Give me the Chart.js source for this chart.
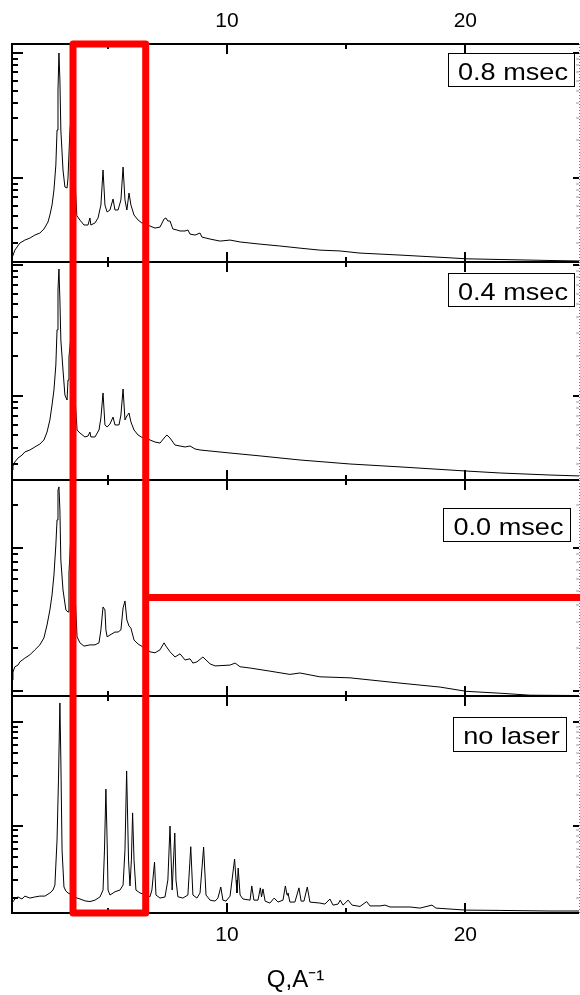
<!DOCTYPE html>
<html>
<head>
<meta charset="utf-8">
<script src="https://cdn.jsdelivr.net/npm/chart.js@4.4.1/dist/chart.umd.min.js"></script>
<style>
html,body{margin:0;padding:0;background:#fff;}
canvas{display:block;}
</style>
</head>
<body>
<canvas id="c" width="580" height="995"></canvas>
<script>
// ---------------- data ----------------
const panelLabels = ['0.8 msec', '0.4 msec', '0.0 msec', 'no laser'];
const xTickLabels = [10, 20];
const xMinorTicks = [5, 15];
const xTitle = 'Q,A\u207B\u00B9';

// 0.8 msec
const q1 = [0.98,1.10,1.31,1.52,1.73,1.94,2.15,2.32,2.49,2.57,2.66,2.74,2.82,2.87,2.91,2.95,2.99,3.03,3.12,3.20,3.29,3.33,3.41,3.50,3.60,3.70,3.83,4.00,4.17,4.25,4.29,4.46,4.59,4.71,4.80,4.88,4.97,5.09,5.22,5.30,5.43,5.55,5.64,5.72,5.80,5.89,5.97,6.10,6.27,6.43,6.60,6.77,6.98,7.19,7.36,7.44,7.52,7.61,7.73,7.90,8.03,8.24,8.36,8.45,8.66,8.87,8.95,9.29,9.71,10.13,10.55,11.39,12.22,13.06,13.90,14.74,15.58,17.26,19.36,20.03,21.46,23.55,24.77];
const i1 = [229,265,302,319,331,350,363,391,445,506,608,802,1270,2420,5060,10000,6080,2420,1160,847,832,1000,2400,3500,1200,500,461,421,421,479,421,437,479,608,1160,608,535,555,679,555,555,667,1224,667,555,759,608,506,461,437,428,413,398,405,470,479,453,453,391,384,377,377,384,356,350,363,337,325,313,319,308,296,286,275,265,261,251,242,230,226,223,219,217];

// 0.4 msec
const q2 = [0.98,1.02,1.10,1.23,1.40,1.52,1.73,1.94,2.15,2.32,2.45,2.57,2.66,2.74,2.82,2.87,2.91,2.95,2.99,3.03,3.12,3.20,3.29,3.33,3.37,3.45,3.52,3.62,3.71,3.83,4.04,4.17,4.25,4.29,4.46,4.63,4.71,4.80,4.88,4.97,5.09,5.22,5.30,5.47,5.55,5.64,5.72,5.80,5.89,5.97,6.10,6.27,6.48,6.60,6.77,6.98,7.19,7.40,7.48,7.61,7.82,8.24,8.45,8.66,8.87,10.13,11.39,13.06,15.16,17.26,20.03,21.46,23.55,24.77];
const i2 = [271,290,312,334,352,372,385,406,428,459,528,653,849,1105,1715,3180,6410,9270,5380,2660,1570,1010,927,1318,1970,2800,3000,1000,547,519,484,492,528,484,484,547,676,1049,598,577,608,687,598,598,712,1125,653,700,738,630,547,501,475,475,459,443,435,484,501,475,420,406,413,392,385,365,347,323,301,286,266,257,248,244];

// 0.0 msec
const q3 = [0.98,1.02,1.10,1.23,1.31,1.52,1.73,1.94,2.15,2.32,2.45,2.57,2.66,2.74,2.82,2.87,2.91,2.95,2.99,3.03,3.12,3.24,3.33,3.37,3.45,3.52,3.62,3.71,3.83,4.00,4.25,4.46,4.63,4.71,4.80,4.88,4.92,4.97,5.09,5.30,5.43,5.55,5.64,5.72,5.80,5.89,5.97,6.10,6.27,6.48,6.60,6.77,6.98,7.19,7.31,7.36,7.44,7.61,7.82,8.03,8.24,8.45,8.57,8.74,8.99,9.29,9.50,10.13,10.34,10.55,10.97,11.80,12.64,13.06,13.90,15.16,17.26,18.94,20.03,21.46,22.72,24.77];
const i3 = [119,135,147,151,159,169,178,193,209,234,288,367,467,644,1045,1563,2530,2660,1835,820,506,367,355,665,1200,1400,500,238,216,205,209,209,216,266,385,367,266,238,245,257,257,266,379,424,312,283,274,226,212,202,199,187,184,193,209,216,205,187,172,181,164,167,156,159,172,154,149,151,156,147,144,137,130,133,125,123,113,106,99,96,93,92.5];

// no laser
const q4 = [0.98,1.10,1.23,1.40,1.52,1.73,1.94,2.15,2.36,2.57,2.70,2.78,2.87,2.93,2.99,3.03,3.08,3.16,3.24,3.33,3.50,3.71,3.83,4.04,4.25,4.46,4.67,4.80,4.86,4.92,4.97,5.01,5.09,5.30,5.51,5.64,5.72,5.79,5.87,5.93,5.99,6.04,6.10,6.18,6.35,6.60,6.77,6.85,6.96,7.02,7.19,7.40,7.52,7.61,7.70,7.81,7.86,7.94,8.15,8.36,8.48,8.57,8.74,8.87,9.02,9.12,9.29,9.50,9.62,9.74,9.83,9.96,10.13,10.32,10.38,10.42,10.47,10.55,10.67,10.97,11.04,11.13,11.30,11.40,11.45,11.51,11.60,11.80,11.98,12.14,12.35,12.45,12.52,12.56,12.64,12.85,13.02,13.11,13.23,13.37,13.48,13.90,14.11,14.32,14.45,14.66,14.75,14.87,15.08,15.25,15.58,15.86,16.00,16.42,16.63,16.84,17.26,17.68,18.10,18.60,18.77,20.03,21.46,23.55,24.77];
const i4 = [17.9,19.6,20.5,19.6,20.9,20.0,20.5,20.9,20.9,22.4,23.9,26.7,72.7,277,1535,431,58.2,25.6,23.4,22.4,21.4,20.0,19.6,18.8,18.5,19.1,20.5,23.9,58.2,226,72.7,23.9,21.4,23.0,23.9,26.7,58.2,338,46.7,26.2,46.7,133,46.7,23.9,22.4,21.4,20.6,23.9,44.6,21.4,20.0,20.5,29.9,99.3,23.9,85.0,29.9,20.6,20.0,21.4,62.7,21.4,20.0,22.4,62.2,21.4,19.1,18.7,20.0,25.6,19.1,18.7,20.9,47.7,29.9,22.4,39.0,21.4,19.6,19.1,26.2,19.1,19.1,25.1,20.5,24.5,18.7,17.9,20.0,18.3,19.1,26.2,21.4,22.4,18.3,18.3,25.1,18.7,18.7,25.6,18.3,17.9,17.5,19.6,17.1,17.5,19.1,17.1,19.1,17.1,16.6,18.5,16.8,16.8,17.1,16.4,16.4,16.4,16.0,17.1,16.0,15.3,15.2,15.0,15.0];

// highlighted Q window (red frame) and red level line in the 0.0 msec panel
const highlightQ = [3.54, 6.59];
const highlightLevel = 449;

// ---------------- styling / layout ----------------
const FONT = '"Liberation Sans", Arial, Helvetica, sans-serif';
Chart.defaults.font.family = FONT;
Chart.defaults.color = '#000';

const panels = [
  {id:'y1', q:q1, v:i1, min:213,   max:11803, weight:218, label:panelLabels[0], box:[448,53,126,33]},
  {id:'y2', q:q2, v:i2, min:227.2, max:10486, weight:218, label:panelLabels[1], box:[448,273,126,33]},
  {id:'y3', q:q3, v:i3, min:91.8,  max:2973,  weight:216, label:panelLabels[2], box:[443,508,127,33]},
  {id:'y4', q:q4, v:i4, min:14.35, max:1792,  weight:217, label:panelLabels[3], box:[453,717,113,34]}
];

const X_MIN = 0.98, X_MAX = 24.77;

function xAxis(pos, h, withTitle) {
  return {
    type:'linear', position:pos, min:X_MIN, max:X_MAX,
    afterBuildTicks: s => { s.ticks = xTickLabels.map(v => ({value:v})); },
    ticks:{font:{size:21}, padding:10, maxRotation:0, autoSkip:false, color:'#000'},
    grid:{display:false, drawTicks:false},
    border:{display:false},
    title: withTitle ? {display:true, text:xTitle, font:{size:24}, padding:{top:0,bottom:0}, color:'#000'} : {display:false},
    afterFit: s => { s.height = h; }
  };
}

const scales = { x: xAxis('bottom', 82, true), x2: xAxis('top', 44, false) };
// stacked log axes: defined bottom panel first so the last one ends on top
[...panels].reverse().forEach(p => {
  scales[p.id] = {
    type:'logarithmic', position:'left', stack:'panels', stackWeight:p.weight,
    min:p.min, max:p.max,
    ticks:{display:false}, grid:{display:false, drawTicks:false}, border:{display:false},
    afterFit: s => { s.width = 0; }
  };
});

const decor = {
  id:'decor',
  afterDraw(chart) {
    const {ctx, chartArea:ca, scales:sc} = chart;
    const xs = sc.x;
    ctx.save();
    ctx.lineCap = 'butt';
    panels.forEach(p => {
      const ys = sc[p.id];
      const t = Math.round(ys.top), b = Math.round(ys.bottom);
      // log ticks left (solid) and right (light)
      const e0 = Math.floor(Math.log10(ys.min)), e1 = Math.ceil(Math.log10(ys.max));
      for (let e = e0; e <= e1; e++) {
        for (let m = 1; m <= 9; m++) {
          const v = m * Math.pow(10, e);
          if (v < ys.min || v > ys.max) continue;
          const py = Math.round(ys.getPixelForValue(v));
          ctx.setLineDash([]);
          ctx.strokeStyle = '#000'; ctx.lineWidth = 2;
          ctx.beginPath(); ctx.moveTo(ca.left, py); ctx.lineTo(ca.left + (m === 1 ? 11 : 6), py); ctx.stroke();
          ctx.lineWidth = m === 1 ? 2 : 1; ctx.strokeStyle = m === 1 ? '#000' : '#999';
          ctx.beginPath(); ctx.moveTo(ca.right, py); ctx.lineTo(ca.right - (m === 1 ? 6 : 3), py); ctx.stroke();
        }
      }
      // x ticks, inward at top and bottom of each panel
      ctx.strokeStyle = '#000'; ctx.lineWidth = 2; ctx.setLineDash([]);
      xTickLabels.concat(xMinorTicks).forEach(v => {
        const px = Math.round(xs.getPixelForValue(v));
        const len = xTickLabels.includes(v) ? 10 : 5;
        ctx.beginPath();
        ctx.moveTo(px, t); ctx.lineTo(px, t + len);
        ctx.moveTo(px, b); ctx.lineTo(px, b - len);
        ctx.stroke();
      });
      // panel frame
      ctx.beginPath();
      ctx.moveTo(ca.left, t); ctx.lineTo(ca.right, t);
      ctx.moveTo(ca.left, b); ctx.lineTo(ca.right, b);
      ctx.moveTo(ca.left, t - 1); ctx.lineTo(ca.left, b + 1);
      ctx.stroke();
      ctx.setLineDash([1, 2]); ctx.strokeStyle = '#777'; ctx.lineWidth = 1;
      ctx.beginPath(); ctx.moveTo(ca.right + 0.5, t); ctx.lineTo(ca.right + 0.5, b); ctx.stroke();
      ctx.setLineDash([]);
      // label box
      const [bx, by, bw, bh] = p.box;
      ctx.fillStyle = '#fff'; ctx.fillRect(bx, by, bw, bh);
      ctx.strokeStyle = '#000'; ctx.lineWidth = 1;
      ctx.strokeRect(bx + 0.5, by + 0.5, bw, bh);
      ctx.save();
      ctx.translate(bx + bw / 2 + 2, by + 27);
      ctx.scale(1.13, 1);
      ctx.font = '24px ' + FONT;
      ctx.textAlign = 'center'; ctx.textBaseline = 'alphabetic';
      ctx.fillStyle = '#000';
      ctx.fillText(p.label, 0, 0);
      ctx.restore();
    });
    // red highlight
    const xl = xs.getPixelForValue(highlightQ[0]);
    const xr = xs.getPixelForValue(highlightQ[1]);
    const ly = sc.y3.getPixelForValue(highlightLevel);
    ctx.strokeStyle = '#ff0000'; ctx.lineWidth = 7; ctx.lineJoin = 'round';
    ctx.strokeRect(xl, ca.top, xr - xl, ca.bottom - ca.top);
    ctx.beginPath(); ctx.moveTo(xr, ly); ctx.lineTo(chart.width + 10, ly); ctx.stroke();
    ctx.restore();
  }
};

new Chart(document.getElementById('c'), {
  type:'line',
  data:{
    datasets: panels.map(p => ({
      label:p.label,
      data:p.q.map((x, k) => ({x:x, y:p.v[k]})),
      xAxisID:'x', yAxisID:p.id,
      borderColor:'#000', borderWidth:1, pointRadius:0, tension:0, fill:false
    }))
  },
  options:{
    responsive:false, animation:false, devicePixelRatio:1, events:[],
    layout:{padding:{left:12, right:1, top:0, bottom:0}},
    plugins:{legend:{display:false}, tooltip:{enabled:false}},
    scales:scales
  },
  plugins:[decor]
});
</script>
</body>
</html>
